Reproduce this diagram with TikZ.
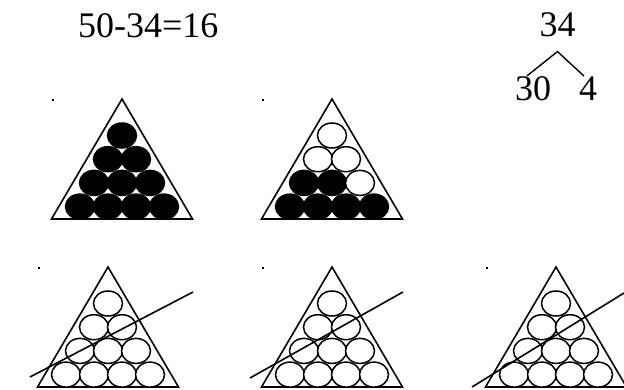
\documentclass[tikz,border=0pt]{standalone}
\usepackage{fontspec}
\setmainfont{Liberation Serif}
\tikzset{
  rack/.style={line width=1.6pt, line join=miter},
  ball/.style={line width=1.5pt},
  strike/.style={line width=1.6pt},
  bignum/.style={font=\fontsize{36}{40}\selectfont, inner sep=0pt},
}
% triangle of ten balls: apex x, apex y, number of black balls
\newcommand\balltri[3]{%
  \draw[rack] (#1,#2) -- ++(70.5,120) -- ++(-141,0) -- cycle;
  \fill (#1-70.5,#2) rectangle ++(2,1.6);
  \foreach \r in {0,...,3}
    \foreach \k in {0,...,\r} {
      \pgfmathtruncatemacro\pos{10-(\r+1)*(\r+2)/2+\k+1}
      \ifnum\pos>#3 \def\bcol{white}\else\def\bcol{black}\fi
      \draw[ball, fill=\bcol] ({#1+(\k-\r/2)*28},{#2+36.5+\r*23.7}) ellipse (14.5 and 12.5);
    }%
}
\begin{document}
\begin{tikzpicture}[x=1pt,y=-1pt]
  \useasboundingbox (0,0) rectangle (624,389);
  \node[bignum, anchor=base west] (diff) at (78,37) {50-34=16};
  \node[bignum, anchor=base] (whole) at (557.5,36) {34};
  \node[bignum, anchor=base] (tens) at (533,100) {30};
  \node[bignum, anchor=base] (ones) at (588,100) {4};
  \coordinate (fork) at ([yshift=-15pt]whole.south);
  \draw[line width=1.4pt] ([xshift=-6pt]tens.north) -- (fork) -- ([xshift=-4pt]ones.north);

  \balltri{122}{99}{10}
  \balltri{332}{99}{6}
  \balltri{108}{267}{0}
  \balltri{332}{267}{0}
  \balltri{556}{267}{0}

  \draw[strike] (30,377) -- (193,292);
  \draw[strike] (250,378) -- (403,292);
  \draw[strike] (472,387) -- (624,293);
\end{tikzpicture}
\end{document}
